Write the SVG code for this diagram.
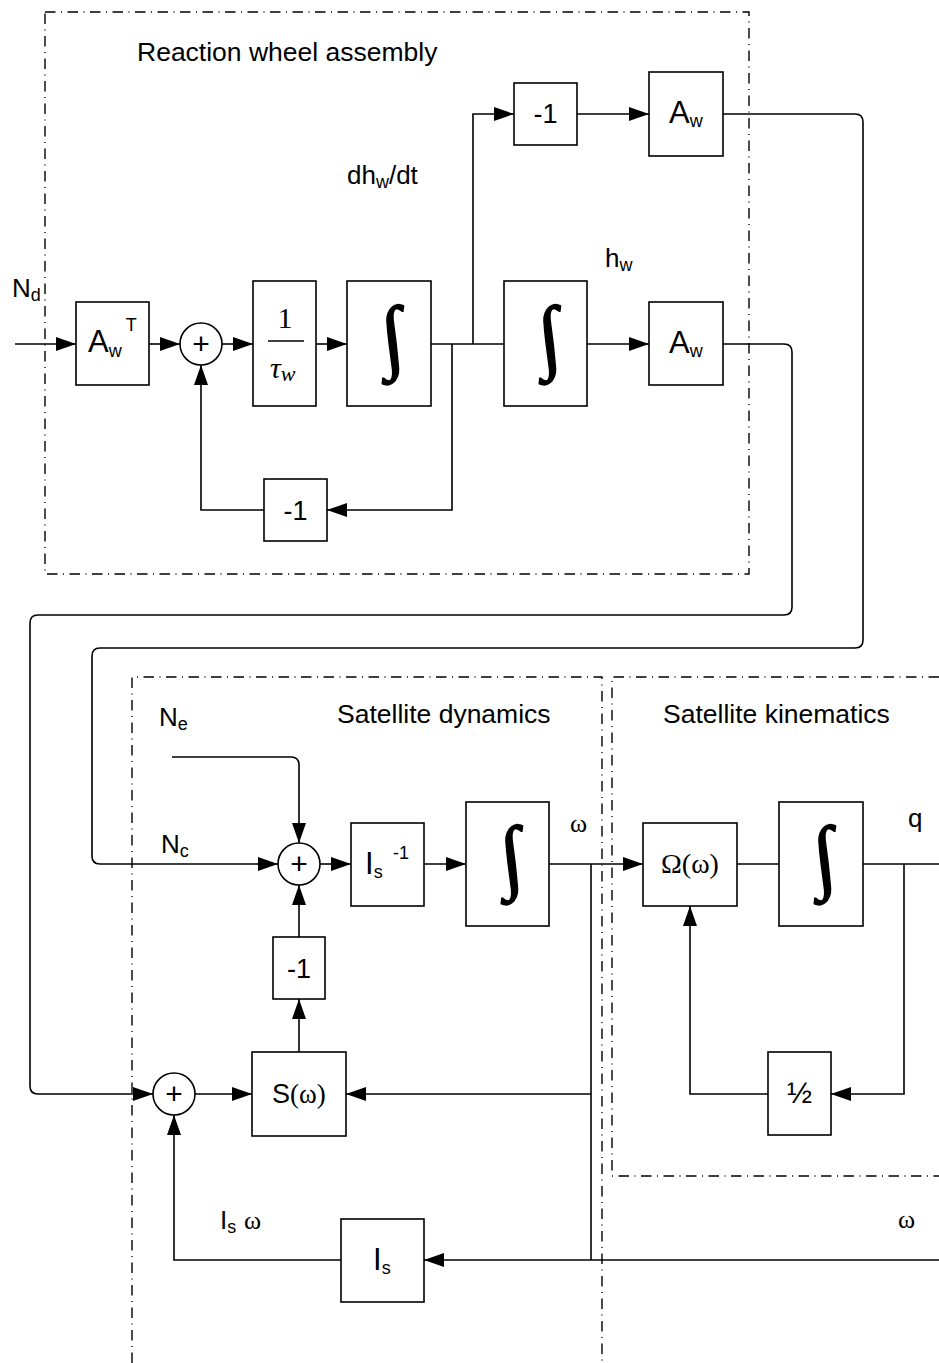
<svg xmlns="http://www.w3.org/2000/svg" width="939" height="1363" viewBox="0 0 939 1363">
<defs>
<marker id="ah" markerWidth="20" markerHeight="14" refX="20" refY="7" orient="auto" markerUnits="userSpaceOnUse"><path d="M0,0 L20,7 L0,14 z" fill="#000"/></marker>
<style>
.b{fill:#fff;stroke:#000;stroke-width:1.6}
.w{fill:none;stroke:#000;stroke-width:1.6}
.a{fill:none;stroke:#000;stroke-width:1.6;marker-end:url(#ah)}
.dd{fill:none;stroke:#000;stroke-width:1.4;stroke-dasharray:10.5 5.5 1 5.5}
.t{font-family:"Liberation Sans",Arial,sans-serif;font-size:26px;fill:#000}
.s{font-family:"Liberation Serif","Times New Roman",serif;fill:#000}
.int{font-family:"Liberation Serif","Times New Roman",serif;font-size:82px;fill:#000;stroke:#000;stroke-width:1.4;text-anchor:middle}
</style>
</defs>
<rect width="939" height="1363" fill="#fff"/>

<g id="frames">
<rect class="dd" x="45" y="12" width="704" height="562"/>
<path class="dd" d="M132,1363 V677 H602 V1363"/>
<path class="dd" d="M939,677 H612 V1176 H939"/>
<text class="t" x="137" y="61" style="font-size:26.5px">Reaction wheel assembly</text>
<text class="t" x="337" y="723" style="font-size:26.5px">Satellite dynamics</text>
<text class="t" x="663" y="723" style="font-size:26.5px">Satellite kinematics</text>
</g>

<g id="connectors">
<path class="a" d="M15,344 H76"/>
<path class="a" d="M149,344 H180"/>
<path class="a" d="M222,344 H253"/>
<path class="a" d="M316,344 H347"/>
<path class="w" d="M431,344 H504"/>
<path class="a" d="M473,344 V114 H514"/>
<path class="a" d="M577,114 H649"/>
<path class="a" d="M587,344 H649"/>
<path class="a" d="M452,344 V510 H327"/>
<path class="a" d="M264,510 H201 V365"/>
<path class="a" d="M723,114 H855 Q863,114 863,122 V640 Q863,648 855,648 H100 Q92,648 92,656 V856 Q92,864 100,864 H278"/>
<path class="a" d="M723,344 H784 Q792,344 792,352 V607 Q792,615 784,615 H38 Q30,615 30,623 V1086 Q30,1094 38,1094 H153"/>
<path class="a" d="M172,757 H291 Q299,757 299,765 V843"/>
<path class="a" d="M320,864 H351"/>
<path class="a" d="M424,864 H466"/>
<path class="a" d="M549,864 H643"/>
<path class="w" d="M591,864 V1260"/>
<path class="w" d="M737,864 H779"/>
<path class="w" d="M863,864 H939"/>
<path class="a" d="M904,864 V1094 H831"/>
<path class="a" d="M768,1094 H690 V906"/>
<path class="a" d="M299,937 V885"/>
<path class="a" d="M299,1052 V999"/>
<path class="a" d="M195,1094 H252"/>
<path class="a" d="M591,1094 H346"/>
<path class="a" d="M939,1260 H424"/>
<path class="a" d="M341,1260 H174 V1115"/>
</g>

<g id="labels">
<text class="t" x="12" y="297">N<tspan font-size="18" dy="4">d</tspan></text>
<text class="t" x="347" y="184">dh<tspan font-size="18" dy="4">w</tspan><tspan dy="-4">/dt</tspan></text>
<text class="t" x="605" y="267">h<tspan font-size="18" dy="4">w</tspan></text>
<text class="t" x="159" y="726">N<tspan font-size="18" dy="4">e</tspan></text>
<text class="t" x="161" y="853">N<tspan font-size="18" dy="4">c</tspan></text>
<text class="s" x="570" y="832" font-size="26">ω</text>
<text class="t" x="908" y="827">q</text>
<text class="t" x="220" y="1229">I<tspan font-size="18" dy="4">s</tspan></text>
<text class="s" x="244" y="1229" font-size="26">ω</text>
<text class="s" x="898" y="1228" font-size="26">ω</text>
</g>

<g id="AwT">
<rect class="b" x="76" y="302" width="73" height="83"/>
<text class="t" x="88" y="352" style="font-size:31px">A<tspan font-size="18" dy="5">w</tspan><tspan font-size="18" dx="4" dy="-26">T</tspan></text>
</g>
<g id="sum1">
<circle class="b" cx="201" cy="344" r="21"/>
<text class="t" x="201" y="354" text-anchor="middle" style="font-size:30px">+</text>
</g>
<g id="tau">
<rect class="b" x="253" y="281" width="63" height="125"/>
<text class="s" x="285" y="328" font-size="30" text-anchor="middle">1</text>
<line class="w" x1="268" y1="341" x2="304" y2="341"/>
<text class="s" x="270" y="378" font-size="30" font-style="italic">τ<tspan font-size="22" dy="3">w</tspan></text>
</g>
<g id="int1">
<rect class="b" x="347" y="281" width="84" height="125"/>
<text class="int" transform="translate(393,344) skewX(7)" x="0" y="19">∫</text>
</g>
<g id="int2">
<rect class="b" x="504" y="281" width="83" height="125"/>
<text class="int" transform="translate(550,344) skewX(7)" x="0" y="19">∫</text>
</g>
<g id="neg1top">
<rect class="b" x="514" y="83" width="63" height="62"/>
<text class="t" x="545.5" y="123" text-anchor="middle" style="font-size:27px">-1</text>
</g>
<g id="AwTop">
<rect class="b" x="649" y="72" width="74" height="84"/>
<text class="t" x="669" y="123" style="font-size:31px">A<tspan font-size="18" dy="4">w</tspan></text>
</g>
<g id="AwBot">
<rect class="b" x="649" y="302" width="74" height="83"/>
<text class="t" x="669" y="353" style="font-size:31px">A<tspan font-size="18" dy="4">w</tspan></text>
</g>
<g id="neg1fb">
<rect class="b" x="264" y="479" width="63" height="62"/>
<text class="t" x="295.5" y="520" text-anchor="middle" style="font-size:27px">-1</text>
</g>

<g id="sum2">
<circle class="b" cx="299" cy="864" r="21"/>
<text class="t" x="299" y="874" text-anchor="middle" style="font-size:30px">+</text>
</g>
<g id="IsInv">
<rect class="b" x="351" y="823" width="73" height="83"/>
<text class="t" x="365" y="874" style="font-size:31px">I<tspan font-size="18" dy="4">s</tspan></text>
<text class="t" x="393" y="859" style="font-size:18px">-1</text>
</g>
<g id="int3">
<rect class="b" x="466" y="802" width="83" height="124"/>
<text class="int" transform="translate(512,864) skewX(7)" x="0" y="19">∫</text>
</g>
<g id="neg1dyn">
<rect class="b" x="273" y="937" width="52" height="62"/>
<text class="t" x="299" y="978" text-anchor="middle" style="font-size:27px">-1</text>
</g>
<g id="sum3">
<circle class="b" cx="174" cy="1094" r="21"/>
<text class="t" x="174" y="1104" text-anchor="middle" style="font-size:30px">+</text>
</g>
<g id="Sw">
<rect class="b" x="252" y="1052" width="94" height="84"/>
<text class="t" x="272" y="1103" style="font-size:27px">S<tspan style="font-family:'Liberation Serif',serif">(ω)</tspan></text>
</g>
<g id="Is">
<rect class="b" x="341" y="1219" width="83" height="83"/>
<text class="t" x="373" y="1270" style="font-size:31px">I<tspan font-size="18" dy="4">s</tspan></text>
</g>
<g id="Omega">
<rect class="b" x="643" y="823" width="94" height="83"/>
<text class="s" x="690" y="873" font-size="28" text-anchor="middle">Ω(ω)</text>
</g>
<g id="int4">
<rect class="b" x="779" y="802" width="84" height="124"/>
<text class="int" transform="translate(825,864) skewX(7)" x="0" y="19">∫</text>
</g>
<g id="half">
<rect class="b" x="768" y="1052" width="63" height="83"/>
<text class="t" x="799.5" y="1103" text-anchor="middle" style="font-size:30px">½</text>
</g>
</svg>
